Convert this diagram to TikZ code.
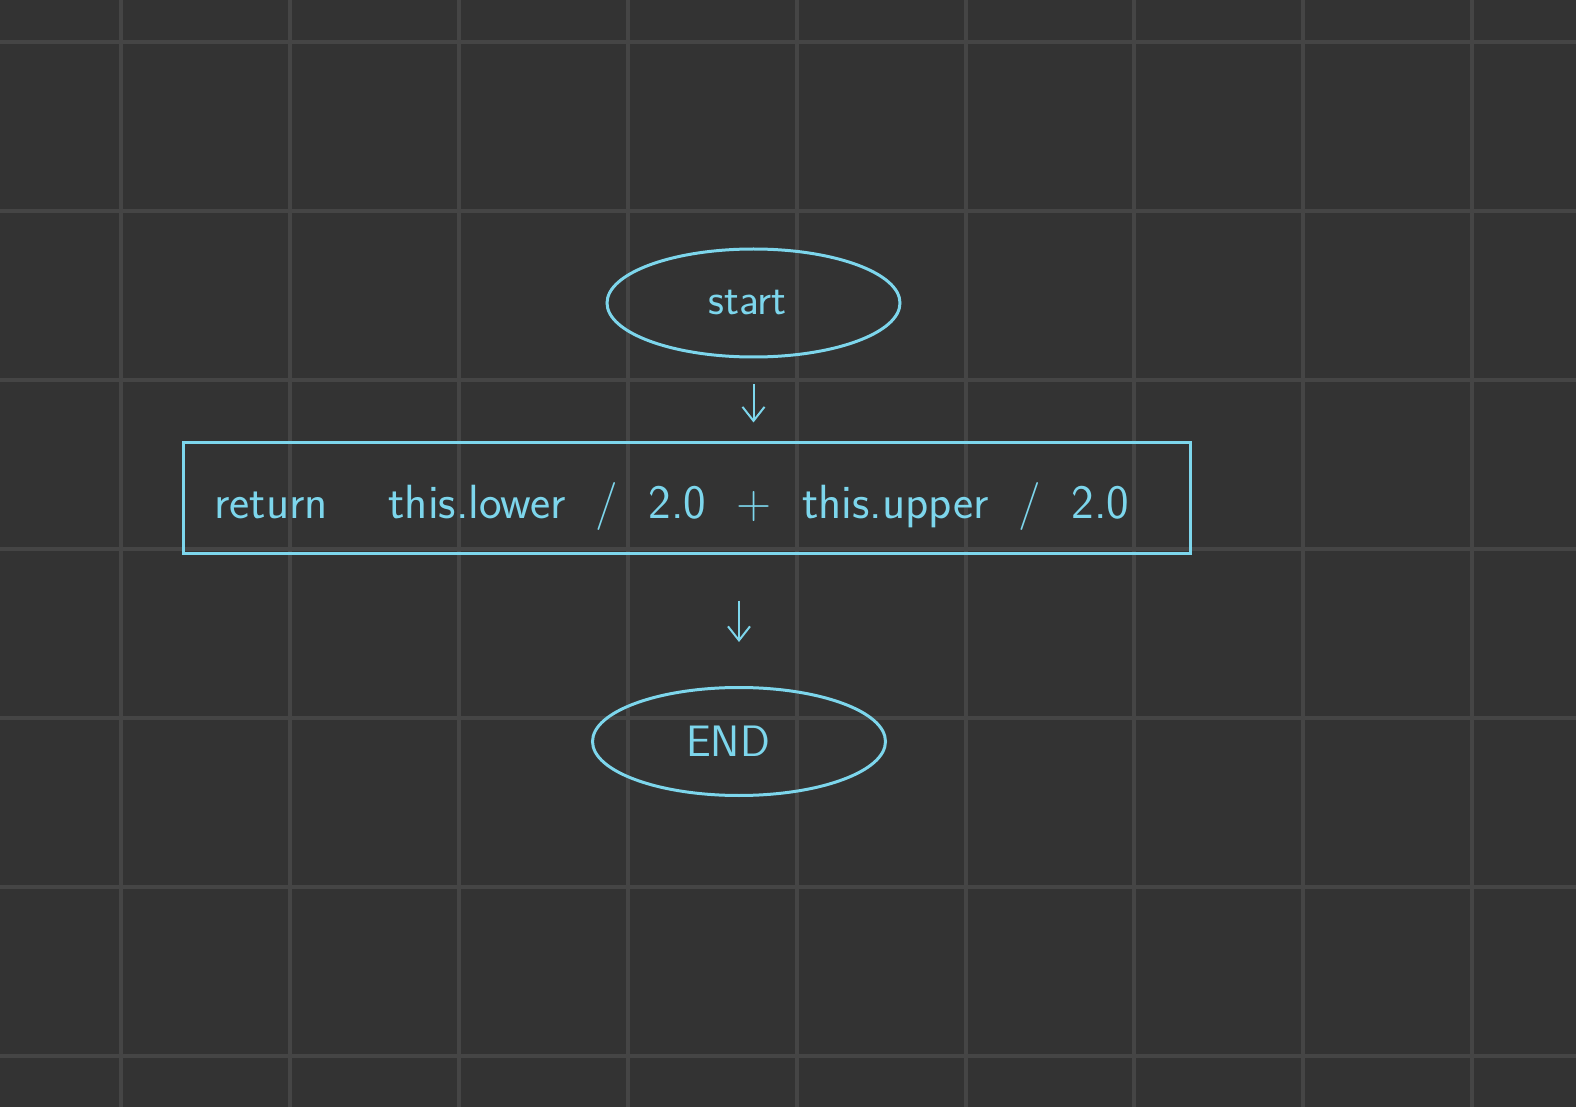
\documentclass[tikz,border=0pt]{standalone}
\usepackage{tikz}
\usetikzlibrary{shapes.geometric}
\usetikzlibrary{arrows.meta}

\definecolor{boardbg}{HTML}{333333}
\definecolor{boardgrid}{HTML}{454545}
\definecolor{chalk}{HTML}{7DD6EC}

\begin{document}
\begin{tikzpicture}[x=0.5pt, y=-0.5pt]
    \tikzstyle{gridline}=[boardgrid, line width=2pt]
    \tikzstyle{terminal}=[ellipse, draw=chalk, line width=1.5pt, inner sep=0pt,
      minimum width=146.5pt, minimum height=54pt, text=chalk,
      font=\fontsize{22}{26}\selectfont\sffamily]
    \tikzstyle{procbox}=[rectangle, draw=chalk, line width=1.5pt, inner sep=0pt,
      minimum width=503.5pt, minimum height=55pt]
    \tikzstyle{flow}=[chalk, line width=1pt, -{Straight Barb[length=7pt,width=11pt]}]
    \fill[boardbg] (0,0) rectangle (1576,1107);
    \useasboundingbox (0,0) rectangle (1576,1107);
    % grid of the board
    \foreach \i in {0,...,8}
      \draw[gridline] ({121+168.9*\i},0) -- ({121+168.9*\i},1107);
    \foreach \j in {0,...,6}
      \draw[gridline] (0,{42.5+168.9*\j}) -- (1576,{42.5+168.9*\j});
    % flow chart
    \node[terminal] (start) at (753.5,303) {\hspace*{-6pt}start};
    \node[procbox] (ret) at (686.5,498) {};
    \node[chalk, anchor=base west, inner sep=0pt,
      font=\fontsize{24}{28}\selectfont\sffamily] (rettext) at (214,518)
      {\makebox[457.5pt][s]{return \ this.lower / 2.0 + this.upper / 2.0}};
    \node[terminal] (finish) at (739,741.5) {\hspace*{-11pt}END};
    \draw[flow, shorten <=13pt, shorten >=9.5pt] (start.south) -- (start.south |- ret.north);
    \draw[flow, shorten <=23pt, shorten >=22pt] (finish.north |- ret.south) -- (finish.north);
\end{tikzpicture}
\end{document}
